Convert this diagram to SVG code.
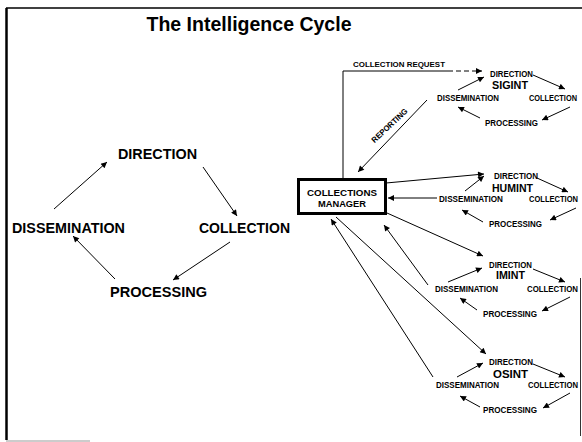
<svg xmlns="http://www.w3.org/2000/svg" width="582" height="442" viewBox="0 0 582 442">
<style>
  text { font-family: "Liberation Sans", Arial, sans-serif; font-weight: bold; fill: #000; }
  .big { font-size: 14px; }
  .sm { font-size: 8.3px; }
  .nm { font-size: 10.8px; }
  .ln { stroke: #000; stroke-width: 1; fill: none; }
  .a { marker-end: url(#ah); }
  .b { marker-end: url(#ahs); }
</style>
<defs>
  <marker id="ah" viewBox="0 0 10 10" refX="10" refY="5" markerUnits="userSpaceOnUse" markerWidth="8" markerHeight="6" orient="auto">
    <path d="M0,0 L10,5 L0,10 z" fill="#000"/>
  </marker>
  <marker id="ahs" viewBox="0 0 10 10" refX="10" refY="5" markerUnits="userSpaceOnUse" markerWidth="7" markerHeight="6" orient="auto">
    <path d="M0,0 L10,5 L0,10 z" fill="#000"/>
  </marker>
</defs>
<rect width="582" height="442" fill="#fff"/>
<!-- frame -->
<g id="frame">
  <line x1="6" y1="8" x2="582" y2="8" stroke="#000" stroke-width="1.5"/>
  <line x1="6.5" y1="8" x2="6.5" y2="440" stroke="#000" stroke-width="2.5"/>
  <line x1="580.5" y1="278" x2="580.5" y2="436" stroke="#000" stroke-width="0.8"/>
  <line x1="6" y1="441" x2="90" y2="441" stroke="#999" stroke-width="1"/>
</g>
<g id="title"><text x="249" y="31" text-anchor="middle" font-size="20" textLength="205" lengthAdjust="spacingAndGlyphs">The Intelligence Cycle</text></g>

<!-- left cycle -->
<g id="l-direction"><text class="big" x="118" y="159" textLength="79" lengthAdjust="spacingAndGlyphs">DIRECTION</text></g>
<g id="l-dissemination"><text class="big" x="12" y="233" textLength="113" lengthAdjust="spacingAndGlyphs">DISSEMINATION</text></g>
<g id="l-collection"><text class="big" x="199" y="233" textLength="91" lengthAdjust="spacingAndGlyphs">COLLECTION</text></g>
<g id="l-processing"><text class="big" x="110" y="297" textLength="97" lengthAdjust="spacingAndGlyphs">PROCESSING</text></g>

<!-- manager -->
<g id="manager">
  <rect x="298.5" y="179.5" width="87" height="34" fill="#fff" stroke="#000" stroke-width="3"/>
  <text x="342" y="196" text-anchor="middle" font-size="9.5" textLength="70" lengthAdjust="spacingAndGlyphs">COLLECTIONS</text>
  <text x="342" y="207" text-anchor="middle" font-size="9.5" textLength="48" lengthAdjust="spacingAndGlyphs">MANAGER</text>
</g>

<!-- SIGINT -->
<g id="sigint">
  <text class="sm" x="490" y="76.5" textLength="43" lengthAdjust="spacingAndGlyphs">DIRECTION</text>
  <text class="nm" x="492" y="89" textLength="36" lengthAdjust="spacingAndGlyphs">SIGINT</text>
  <text class="sm" x="437" y="100.5" textLength="62" lengthAdjust="spacingAndGlyphs">DISSEMINATION</text>
  <text class="sm" x="529" y="100.5" textLength="48" lengthAdjust="spacingAndGlyphs">COLLECTION</text>
  <text class="sm" x="485" y="125.5" textLength="53" lengthAdjust="spacingAndGlyphs">PROCESSING</text>
</g>
<!-- HUMINT -->
<g id="humint">
  <text class="sm" x="494" y="178.5" textLength="44" lengthAdjust="spacingAndGlyphs">DIRECTION</text>
  <text class="nm" x="492" y="192" textLength="41" lengthAdjust="spacingAndGlyphs">HUMINT</text>
  <text class="sm" x="439" y="201.5" textLength="64" lengthAdjust="spacingAndGlyphs">DISSEMINATION</text>
  <text class="sm" x="529" y="201.5" textLength="49" lengthAdjust="spacingAndGlyphs">COLLECTION</text>
  <text class="sm" x="489" y="226.5" textLength="53" lengthAdjust="spacingAndGlyphs">PROCESSING</text>
</g>
<!-- IMINT -->
<g id="imint">
  <text class="sm" x="489" y="267.5" textLength="43" lengthAdjust="spacingAndGlyphs">DIRECTION</text>
  <text class="nm" x="496" y="279" textLength="29" lengthAdjust="spacingAndGlyphs">IMINT</text>
  <text class="sm" x="435" y="291.5" textLength="63" lengthAdjust="spacingAndGlyphs">DISSEMINATION</text>
  <text class="sm" x="527" y="291.5" textLength="51" lengthAdjust="spacingAndGlyphs">COLLECTION</text>
  <text class="sm" x="483" y="316.5" textLength="54" lengthAdjust="spacingAndGlyphs">PROCESSING</text>
</g>
<!-- OSINT -->
<g id="osint">
  <text class="sm" x="489" y="364.5" textLength="44" lengthAdjust="spacingAndGlyphs">DIRECTION</text>
  <text class="nm" x="493" y="378" textLength="35" lengthAdjust="spacingAndGlyphs">OSINT</text>
  <text class="sm" x="436" y="387.5" textLength="63" lengthAdjust="spacingAndGlyphs">DISSEMINATION</text>
  <text class="sm" x="528" y="387.5" textLength="50" lengthAdjust="spacingAndGlyphs">COLLECTION</text>
  <text class="sm" x="483" y="412.5" textLength="54" lengthAdjust="spacingAndGlyphs">PROCESSING</text>
</g>

<g id="labels">
  <text x="353" y="67" font-size="7.5" textLength="92" lengthAdjust="spacingAndGlyphs">COLLECTION REQUEST</text>
  <text x="390" y="128" font-size="8" text-anchor="middle" transform="rotate(-43 390 126)" textLength="46" lengthAdjust="spacingAndGlyphs">REPORTING</text>
</g>

<g id="connectors">
  <!-- left cycle -->
  <line class="ln a" x1="54" y1="209" x2="107" y2="162"/>
  <line class="ln a" x1="203" y1="167" x2="237" y2="216"/>
  <line class="ln a" x1="230" y1="242" x2="173" y2="280"/>
  <line class="ln a" x1="115" y1="279" x2="73" y2="236"/>
  <!-- SIGINT cycle -->
  <line class="ln b" x1="458" y1="90" x2="484" y2="77"/>
  <line class="ln b" x1="533" y1="75" x2="565" y2="89"/>
  <line class="ln b" x1="570" y1="107" x2="542" y2="120"/>
  <line class="ln b" x1="480" y1="118" x2="458" y2="107"/>
  <!-- HUMINT cycle -->
  <line class="ln b" x1="465" y1="191" x2="484" y2="176"/>
  <line class="ln b" x1="537" y1="178" x2="568" y2="192"/>
  <line class="ln b" x1="576" y1="208" x2="550" y2="220"/>
  <line class="ln b" x1="483" y1="222" x2="462" y2="210"/>
  <!-- IMINT cycle -->
  <line class="ln b" x1="448" y1="282" x2="482" y2="268"/>
  <line class="ln b" x1="533" y1="269" x2="565" y2="282"/>
  <line class="ln b" x1="570" y1="297" x2="542" y2="311"/>
  <line class="ln b" x1="477" y1="310" x2="460" y2="298"/>
  <!-- OSINT cycle -->
  <line class="ln b" x1="457" y1="377" x2="483" y2="363"/>
  <line class="ln b" x1="533" y1="364" x2="565" y2="377"/>
  <line class="ln b" x1="570" y1="393" x2="543" y2="408"/>
  <line class="ln b" x1="480" y1="407" x2="460" y2="396"/>
  <!-- collection request -->
  <polyline class="ln" points="343,178 343,71 448,71"/>
  <line class="ln b" x1="448" y1="71" x2="482" y2="71" stroke-dasharray="5,3"/>
  <!-- reporting -->
  <line class="ln a" x1="427" y1="100" x2="358" y2="172"/>
  <!-- manager links -->
  <line class="ln b" x1="386" y1="183" x2="484" y2="174"/>
  <line class="ln a" x1="437" y1="198" x2="388" y2="198"/>
  <line class="ln b" x1="387" y1="213" x2="483" y2="256"/>
  <line class="ln a" x1="428" y1="285" x2="384" y2="225"/>
  <line class="ln b" x1="336" y1="217" x2="486" y2="354"/>
  <line class="ln a" x1="433" y1="377" x2="331" y2="219"/>
</g>
</svg>
